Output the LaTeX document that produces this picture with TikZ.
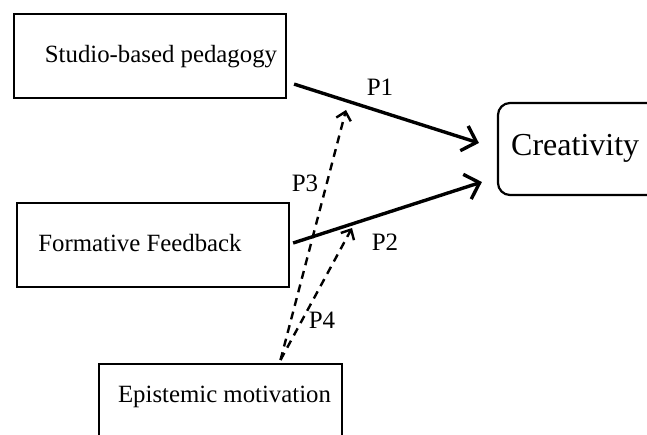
\documentclass[tikz,border=0pt]{standalone}
\usepackage{fontspec}
\setmainfont{Liberation Serif}
\usetikzlibrary{arrows.meta}
\begin{document}
\begin{tikzpicture}[x=1pt,y=-1pt,
  box/.style={draw,line width=2.2pt,minimum width=#1,inner sep=0pt},
  lbl/.style={font=\fontsize{24.8}{28}\selectfont,inner sep=0pt},
  plbl/.style={font=\fontsize{25}{28}\selectfont,inner sep=0pt},
  solidarr/.style={line width=3.4pt,-{Straight Barb[length=13pt,width=26pt,line width=3.4pt]}},
  dasharr/.style={line width=2.4pt,dash pattern=on 8pt off 6pt,-{Straight Barb[length=8pt,width=15pt,line width=2.4pt]}}]
\useasboundingbox (0,0) rectangle (647,435);
\clip (0,0) rectangle (647,435);
\node[box=272pt,minimum height=84pt] (studio) at (150,56) {};
\node[lbl] (studiot) at (161,57) {Studio-based pedagogy};
\node[box=272pt,minimum height=84pt] (form) at (153,245) {};
\node[lbl] (formt) at (140,243) {Formative Feedback};
\node[box=243pt,minimum height=100pt,anchor=north] (epi) at (220.5,363) {};
\node[lbl] (epit) at (224.5,397) {Epistemic motivation};
\node[draw,line width=2.2pt,rounded corners=12pt,minimum width=182pt,minimum height=92pt,inner sep=0pt] (crea) at (589,149) {};
\node[font=\fontsize{32}{36}\selectfont,inner sep=0pt,anchor=west] (creat) at (511,148) {Creativity};
\coordinate (src) at ([shift={(60,-3)}]epi.north);
\draw[solidarr] ([shift={(7,-15)}]studio.south east) -- ([shift={(-18,-6)}]crea.west);
\draw[solidarr] ([shift={(3,-2)}]form.east) -- ([shift={(-15,33)}]crea.west);
\coordinate (p3e) at (346,110);
\coordinate (p4e) at (352,228);
\draw[dasharr] (src) -- (p3e);
\draw[dasharr] (src) -- (p4e);
\node[plbl] (p1) at (380,87) {P1};
\node[plbl] (p2) at (385,242) {P2};
\node[plbl] (p3) at (305,183) {P3};
\node[plbl] (p4) at (322,320) {P4};
\end{tikzpicture}
\end{document}
